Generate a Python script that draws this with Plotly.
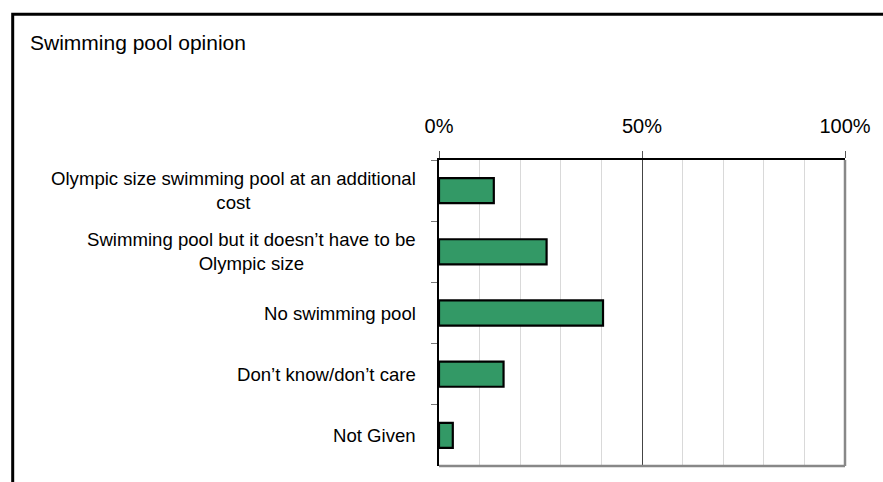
import plotly.graph_objects as go

categories = [
    "Olympic size swimming pool at an additional<br>cost",
    "Swimming pool but it doesn\u2019t have to be<br>Olympic size",
    "No swimming pool",
    "Don\u2019t know/don\u2019t care",
    "Not Given",
]
values = [13.5, 26.5, 40.4, 15.9, 3.4]
x_tick_vals = [0, 50, 100]
x_tick_text = ["0%", "50%", "100%"]
title_text = "Swimming pool opinion"

FONT = "Liberation Sans, Arial, sans-serif"

fig = go.Figure()
fig.add_trace(go.Bar(
    x=values,
    y=categories,
    orientation="h",
    marker=dict(color="#339966", line=dict(color="black", width=2.2)),
    hoverinfo="x+y",
))

annotations = []
for c in categories:
    annotations.append(dict(
        x=0, xref="paper", xanchor="right", xshift=-21,
        y=c, yref="y", yanchor="middle",
        text=c, showarrow=False, align="center",
        font=dict(family=FONT, size=18.6, color="black"),
    ))

shapes = [
    # outer frame
    dict(type="rect", xref="paper", yref="paper",
         x0=-1.050, x1=1.2, y0=-0.2, y1=1.476,
         line=dict(color="black", width=3), fillcolor="rgba(0,0,0,0)", layer="below"),
    # grey bottom and right plot borders
    dict(type="line", xref="paper", yref="paper", x0=0, x1=1, y0=0, y1=0,
         line=dict(color="#888888", width=2.5)),
    dict(type="line", xref="paper", yref="paper", x0=1, x1=1, y0=0, y1=1,
         line=dict(color="#888888", width=2.5)),
]

fig.update_layout(
    width=883, height=482,
    margin=dict(l=439, r=35, t=160, b=16),
    paper_bgcolor="white", plot_bgcolor="white",
    showlegend=False,
    bargap=0.59,
    title=dict(text=title_text, xref="container", yref="container",
               x=30 / 883, xanchor="left", y=1 - 43 / 482, yanchor="middle",
               font=dict(family=FONT, size=21, color="black")),
    font=dict(family=FONT, color="black"),
    annotations=annotations,
    shapes=shapes,
    xaxis=dict(
        side="top", range=[0, 100],
        tickvals=x_tick_vals, ticktext=x_tick_text,
        tickfont=dict(family=FONT, size=20, color="black"),
        ticks="outside", ticklen=7, tickcolor="#555555", tickwidth=1,
        ticklabelstandoff=10,
        showline=True, linecolor="black", linewidth=1.5,
        showgrid=True, gridcolor="#444444", gridwidth=1,
        minor=dict(dtick=10, showgrid=True, gridcolor="#d9d9d9", gridwidth=1, ticks=""),
        zeroline=False, fixedrange=True,
    ),
    yaxis=dict(
        type="category", autorange="reversed",
        showticklabels=False,
        ticks="outside", tickson="boundaries", ticklen=6, tickcolor="#777777",
        showline=True, linecolor="black", linewidth=1.5,
        showgrid=False, zeroline=False, fixedrange=True,
    ),
)

fig.write_html("out.html")
